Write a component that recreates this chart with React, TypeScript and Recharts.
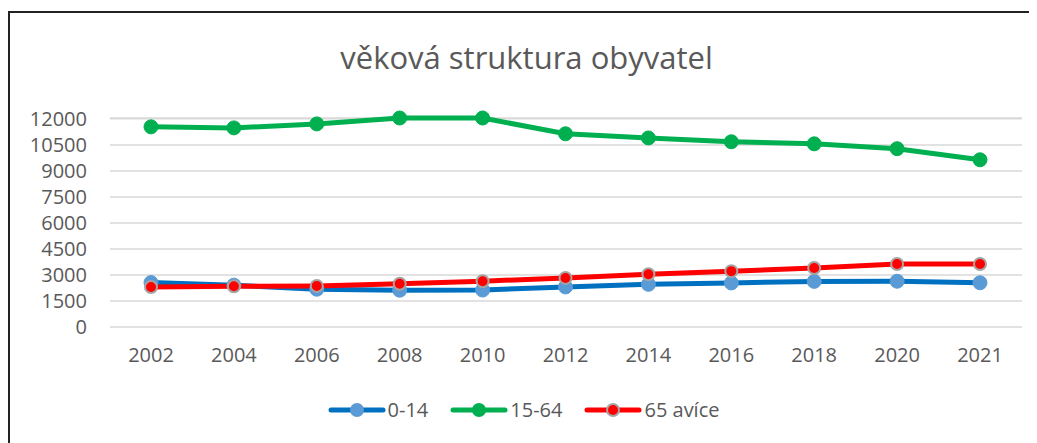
import { LineChart, Line, XAxis, YAxis, CartesianGrid } from 'recharts';

const years = ['2002', '2004', '2006', '2008', '2010', '2012', '2014', '2016', '2018', '2020', '2021'];
const age0to14 = [2560, 2410, 2180, 2120, 2130, 2310, 2460, 2540, 2630, 2640, 2550];
const age15to64 = [11540, 11480, 11710, 12050, 12050, 11140, 10900, 10680, 10560, 10280, 9640];
const age65plus = [2310, 2350, 2370, 2490, 2640, 2830, 3040, 3220, 3400, 3630, 3630];
const yTicks = [0, 1500, 3000, 4500, 6000, 7500, 9000, 10500, 12000];

const data = years.map((year, i) => ({
  year,
  a: age0to14[i],
  b: age15to64[i],
  c: age65plus[i],
}));

const font = '"Open Sans", sans-serif';
const textColor = '#595959';

// legend entries, same look as the series
const legendItems = [
  { name: '0-14', line: '#0070C0', fill: '#5B9BD5', stroke: '#5B9BD5' },
  { name: '15-64', line: '#00B050', fill: '#00B050', stroke: '#00B050' },
  { name: '65 avíce', line: '#FF0000', fill: '#FF0000', stroke: '#A5A5A5' },
];

const App = () => {
  return (
    <div style={{ paddingTop: 3, fontFamily: font }}>
      <div
        style={{
          position: 'relative',
          borderTop: '2px solid #222',
          borderLeft: '2px solid #222',
          width: 1027,
          height: 430,
        }}
      >
        <div
          style={{
            position: 'absolute',
            top: 24,
            left: 3,
            width: 1027,
            textAlign: 'center',
            fontSize: 31,
            lineHeight: '40px',
            color: textColor,
          }}
        >
          věková struktura obyvatel
        </div>
        <LineChart
          width={1027}
          height={430}
          data={data}
          margin={{ top: 105, right: 15, left: 0, bottom: 86 }}
          style={{ fontFamily: font }}
        >
          <CartesianGrid vertical={false} stroke="#D9D9D9" strokeWidth={1.5} />
          <XAxis
            dataKey="year"
            axisLine={false}
            tickLine={false}
            padding={{ left: 41, right: 42 }}
            tick={{ fill: textColor, fontSize: 20 }}
            tickMargin={15}
            height={30}
          />
          <YAxis
            domain={[0, 12000]}
            ticks={yTicks}
            axisLine={false}
            tickLine={false}
            width={100}
            tickMargin={17}
            tick={{ fill: textColor, fontSize: 20 }}
            interval={0}
          />
          <Line
            dataKey="a"
            stroke="#0070C0"
            strokeWidth={5}
            dot={{ r: 7, fill: '#5B9BD5', stroke: '#5B9BD5', strokeWidth: 1 }}
            isAnimationActive={false}
          />
          <Line
            dataKey="b"
            stroke="#00B050"
            strokeWidth={5}
            dot={{ r: 7, fill: '#00B050', stroke: '#00B050', strokeWidth: 1 }}
            isAnimationActive={false}
          />
          <Line
            dataKey="c"
            stroke="#FF0000"
            strokeWidth={5}
            dot={{ r: 6, fill: '#FF0000', stroke: '#A5A5A5', strokeWidth: 2 }}
            isAnimationActive={false}
          />
        </LineChart>
        <div
          style={{
            position: 'absolute',
            top: 383,
            left: 0,
            width: 1027,
            display: 'flex',
            justifyContent: 'center',
            gap: 22,
            fontSize: 20,
            color: textColor,
          }}
        >
          {legendItems.map((item) => (
            <div key={item.name} style={{ display: 'flex', alignItems: 'center' }}>
              <svg width={58} height={20}>
                <line x1={3} y1={10} x2={55} y2={10} stroke={item.line} strokeWidth={5} strokeLinecap="round" />
                <circle cx={29} cy={10} r={6} fill={item.fill} stroke={item.stroke} strokeWidth={2} />
              </svg>
              <span style={{ marginLeft: 2 }}>{item.name}</span>
            </div>
          ))}
        </div>
      </div>
    </div>
  );
};

export default App;
